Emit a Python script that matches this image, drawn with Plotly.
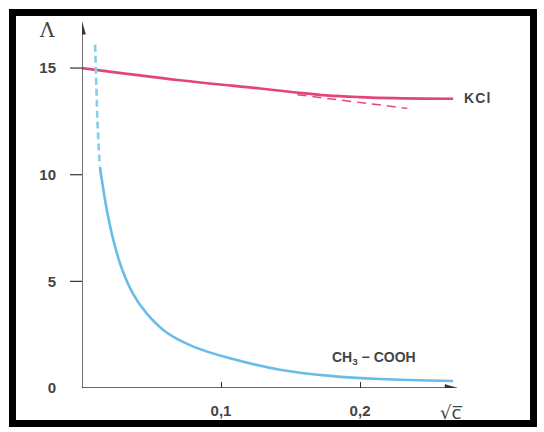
import plotly.graph_objects as go

# ---- data ----
kcl_x = [0.0, 0.0705, 0.128, 0.152, 0.176, 0.200, 0.224, 0.267]
kcl_y = [15.0, 14.43, 14.04, 13.87, 13.72, 13.64, 13.59, 13.56]

kcl_tan_x = [0.155, 0.234]
kcl_tan_y = [13.75, 13.11]

ac_x = [0.0129, 0.0150, 0.0180, 0.0225, 0.0280, 0.0360, 0.0465, 0.0609,
        0.0801, 0.1065, 0.1424, 0.1784, 0.2144, 0.2669]
ac_y = [10.36, 9.45, 8.30, 6.95, 5.72, 4.50, 3.50, 2.60,
        1.94, 1.39, 0.86, 0.57, 0.42, 0.33]

ac_dash_x = [0.0094, 0.0104, 0.0113, 0.0128]
ac_dash_y = [16.1, 14.0, 12.2, 10.4]

x_ticks = [0.1, 0.2]
x_ticktext = ["0,1", "0,2"]
y_ticks = [0, 5, 10, 15]
y_ticktext = ["0", "5", "10", "15"]

X_RANGE = [0, 0.2719]
Y_RANGE = [0, 17.16]
X_TIP = 0.2683
Y_TIP = 17.06

W, H = 544, 432
HE = 424  # effective rendered height used for paper fractions


def fy(py):
    return 1 - py / HE


PINK = "#e2447f"
BLUE = "#68bde8"
BLUE_D = "#86cdea"
AX = "#333333"
TXT = "#444444"
FONT = "Liberation Sans Narrow, Liberation Sans, Arial, sans-serif"

fig = go.Figure()
fig.add_trace(go.Scatter(x=kcl_x, y=kcl_y, mode="lines", line=dict(color=PINK, width=2.6, shape="spline"),
                         hoverinfo="skip"))
fig.add_trace(go.Scatter(x=kcl_tan_x, y=kcl_tan_y, mode="lines",
                         line=dict(color=PINK, width=1.5, dash="9px,6px"), hoverinfo="skip"))
fig.add_trace(go.Scatter(x=ac_x, y=ac_y, mode="lines", line=dict(color=BLUE, width=2.6, shape="spline"),
                         hoverinfo="skip"))
fig.add_trace(go.Scatter(x=ac_dash_x, y=ac_dash_y, mode="lines",
                         line=dict(color=BLUE_D, width=2.6, dash="7px,4px", shape="spline"), hoverinfo="skip"))

annotations = []
annotations.append(dict(x=462 / W, y=fy(98), xref="paper", yref="paper", xanchor="left", yanchor="middle",
                        text="K\u200aC\u200al", showarrow=False, font=dict(family=FONT, size=14, color=TXT, weight="bold")))
annotations.append(dict(x=330 / W, y=fy(358), xref="paper", yref="paper", xanchor="left", yanchor="middle",
                        text="CH<sub>3</sub> \u2212 COOH", showarrow=False,
                        font=dict(family=FONT, size=14, color=TXT, weight="bold")))
annotations.append(dict(x=451 / W, y=fy(412), xref="paper", yref="paper", xanchor="center", yanchor="middle",
                        text="\u221ac\u0305", showarrow=False, font=dict(family="DejaVu Sans", size=18, color=TXT)))
annotations.append(dict(x=47 / W, y=fy(30), xref="paper", yref="paper", xanchor="center", yanchor="middle",
                        text="\u039b", showarrow=False, font=dict(family="DejaVu Serif", size=20, color=TXT)))

shapes = []
# black frame
shapes.append(dict(type="rect", xref="paper", yref="paper", x0=12.5 / W, x1=1 - 10.5 / W, y0=fy(423.5), y1=fy(12.5),
                   line=dict(color="black", width=7), fillcolor="rgba(0,0,0,0)", layer="above"))
# axis lines
shapes.append(dict(type="line", xref="x", yref="y", x0=0, x1=X_TIP, y0=0, y1=0, line=dict(color=AX, width=1.4)))
shapes.append(dict(type="line", xref="x", yref="y", x0=0, x1=0, y0=0, y1=Y_TIP, line=dict(color=AX, width=1.4)))
# arrow heads (pixel-sized paths anchored at the axis tips)
shapes.append(dict(type="path", xref="x", yref="y", xsizemode="pixel", ysizemode="pixel",
                   xanchor=X_TIP, yanchor=0, path="M 2 0 L -10 3.5 L -10 -3.5 Z",
                   fillcolor=AX, line=dict(color=AX, width=0.5)))
shapes.append(dict(type="path", xref="x", yref="y", xsizemode="pixel", ysizemode="pixel",
                   xanchor=0, yanchor=Y_TIP, path="M 0 2 L -3.5 -10 L 3.5 -10 Z",
                   fillcolor=AX, line=dict(color=AX, width=0.5)))
# y tick marks (left of axis)
for v in y_ticks[1:]:
    shapes.append(dict(type="line", xref="paper", yref="y", x0=70 / W, x1=82 / W, y0=v, y1=v,
                       line=dict(color=AX, width=1.2)))

fig.update_layout(
    width=W, height=H, margin=dict(l=0, r=0, t=0, b=0),
    paper_bgcolor="white", plot_bgcolor="white", showlegend=False,
    annotations=annotations, shapes=shapes,
    xaxis=dict(domain=[82 / W, 460 / W], range=X_RANGE, showgrid=False, zeroline=False, showline=False,
               tickvals=x_ticks, ticktext=x_ticktext, ticks="inside", ticklen=6, tickwidth=1.3, tickcolor=AX,
               ticklabelstandoff=12, tickfont=dict(family=FONT, size=15, color=TXT, weight="bold")),
    yaxis=dict(domain=[fy(388), fy(22)], range=Y_RANGE, showgrid=False, zeroline=False, showline=False,
               tickvals=y_ticks, ticktext=y_ticktext, ticks="", ticklabelstandoff=25,
               tickfont=dict(family=FONT, size=15, color=TXT, weight="bold")),
)
fig.write_html("out.html")
